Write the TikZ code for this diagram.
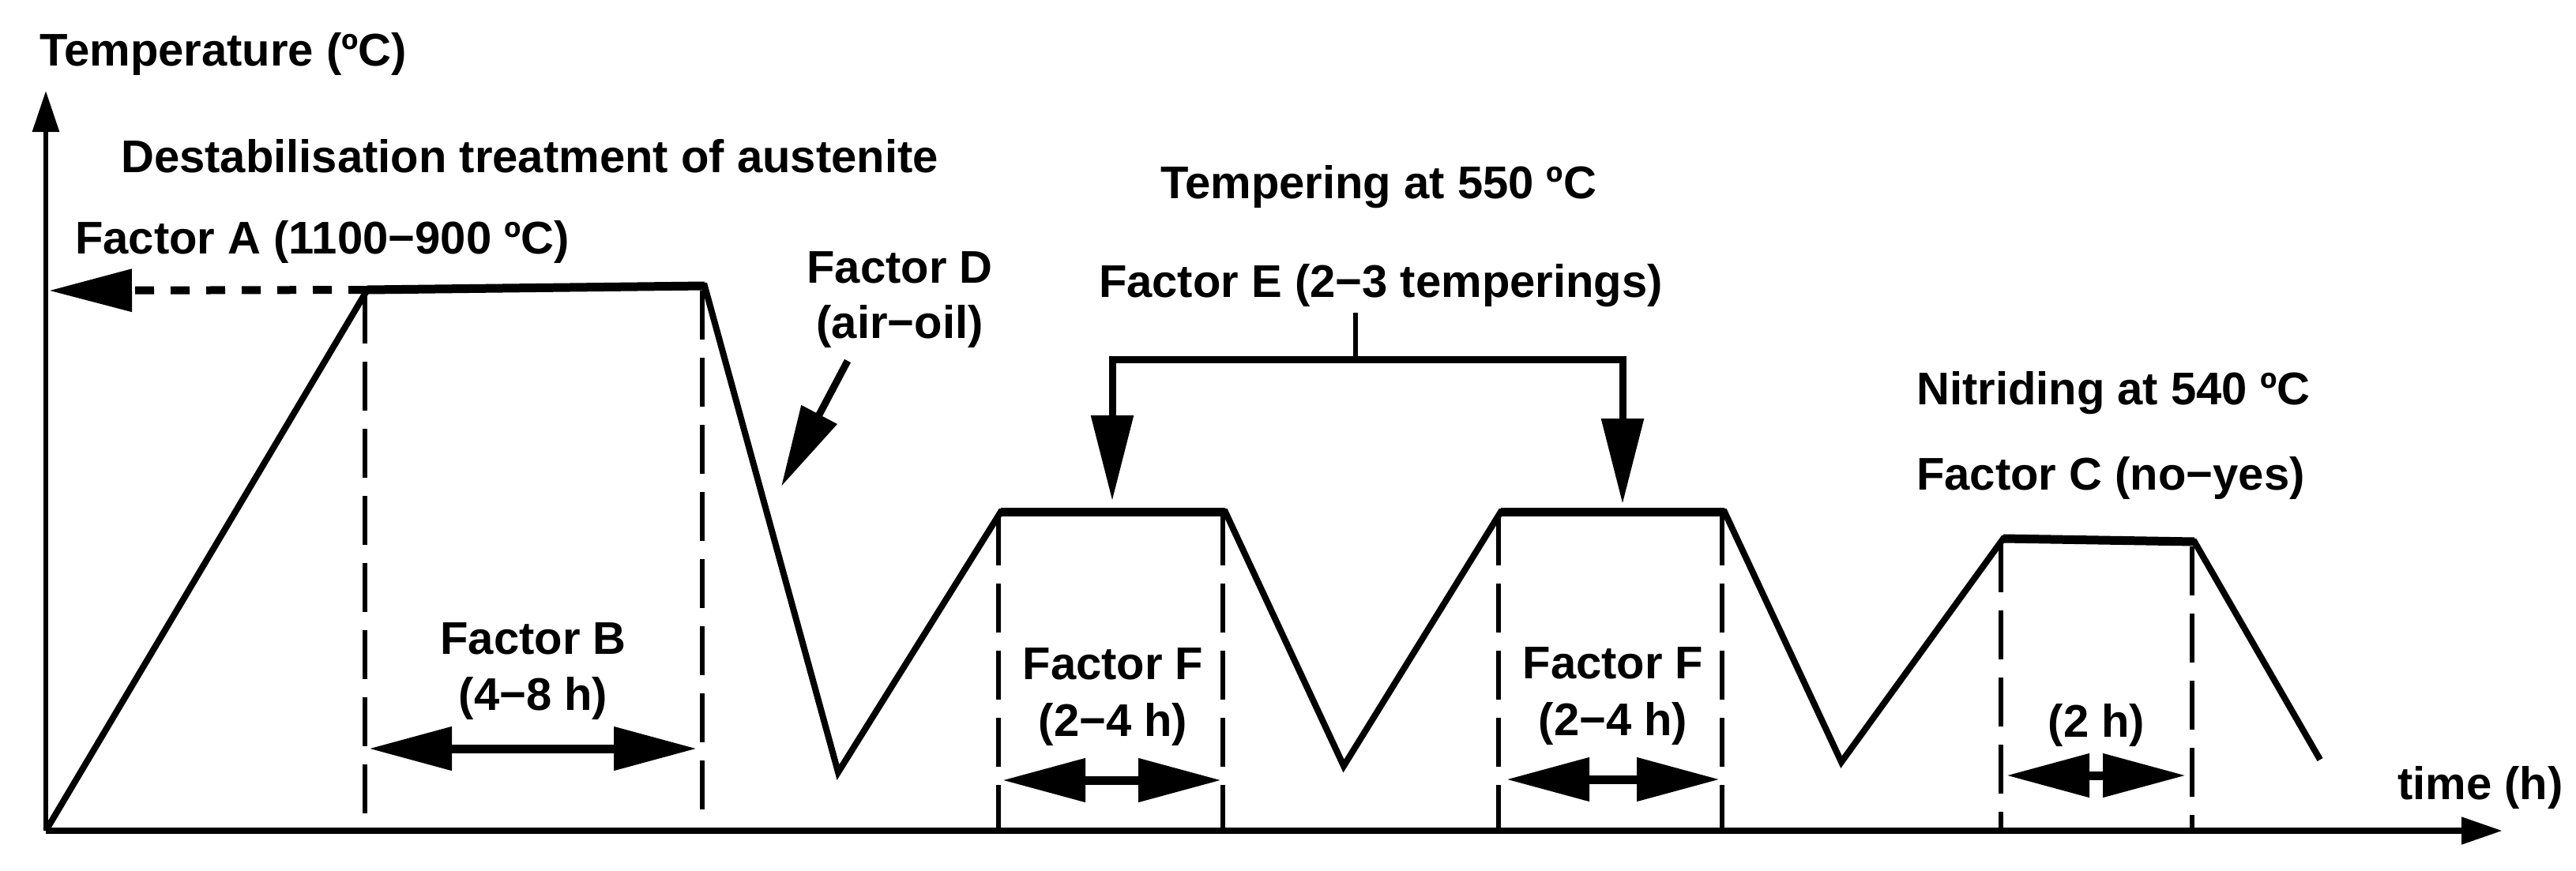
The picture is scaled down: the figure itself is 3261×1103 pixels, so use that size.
\documentclass[tikz,border=0pt]{standalone}
\usepackage{fontspec}
\setmainfont{Liberation Sans}
\usetikzlibrary{arrows.meta}
\begin{document}
\begin{tikzpicture}[x=1pt,y=-1pt,
  lbl/.style={font=\fontsize{58}{68}\selectfont\bfseries, inner sep=0pt},
  curve/.style={line width=8pt, line join=miter},
  plat/.style={line width=11pt, line cap=butt},
  vdash/.style={line width=6pt, dash pattern=on 62pt off 23pt},
  dbl/.style={line width=11pt, {Triangle[length=105pt,width=53pt]}-{Triangle[length=105pt,width=53pt]}},
  axisline/.style={-{Triangle[length=52pt,width=33pt]}}
]
\fill[white] (0,0) rectangle (3261,1103);
\useasboundingbox (0,0) rectangle (3261,1103);

% key points
\coordinate (O) at (58,1052);
\coordinate (Ytip) at (58,115);
\coordinate (Xtip) at (3168,1052);
\coordinate (a1) at (465,367);
\coordinate (a2) at (892,362);
\coordinate (v1) at (1061,978);
\coordinate (b1) at (1267,648);
\coordinate (b2) at (1551,648);
\coordinate (v2) at (1701,970);
\coordinate (c1) at (1900,648);
\coordinate (c2) at (2183,648);
\coordinate (v3) at (2331,965);
\coordinate (d1) at (2536,682);
\coordinate (d2) at (2778,686);
\coordinate (e) at (2937,962);

% axes
\draw[line width=6pt, axisline] (O) -- (Ytip);
\draw[line width=8pt, axisline] (O) -- (Xtip);

% dashed verticals
\foreach \p in {a1,a2,b1,b2,c1,c2,d1,d2}{
  \draw[vdash] ([xshift=-3pt,yshift=-6pt]\p) -- ([xshift=-3pt]\p |- O);
}

% heat treatment curve
\draw[curve] (O) -- (a1) -- (a2) -- (v1) -- (b1) -- (b2) -- (v2) -- (c1) -- (c2) -- (v3) -- (d1) -- (d2) -- (e);
\draw[plat] (a1) -- (a2);
\draw[plat] (b1) -- (b2);
\draw[plat] (c1) -- (c2);
\draw[plat] (d1) -- (d2);

% Factor A dashed arrow
\coordinate (Atip) at (62,368);
\draw[line width=10pt, dash pattern=on 24pt off 21pt, -{Triangle[length=105pt,width=52pt]}] (a1) -- (Atip);

% Factor D arrow
\coordinate (Dtail) at (1073,457);
\coordinate (Dtip) at (989,616);
\draw[line width=9pt, -{Triangle[length=103pt,width=49pt]}] (Dtail) -- (Dtip);

% Factor E bracket
\coordinate (Estub) at (1716,396);
\coordinate (Ejoin) at (1716,455);
\coordinate (Ebar1) at (1408,455);
\coordinate (Ebar2) at (2054,455);
\coordinate (Etip1) at (1408,634);
\coordinate (Etip2) at (2054,638);
\draw[line width=6pt] (Estub) -- (Ejoin);
\draw[line width=9pt, line join=miter, {Triangle[length=108pt,width=52pt]}-{Triangle[length=108pt,width=52pt]}] (Etip1) -- (Ebar1) -- (Ebar2) -- (Etip2);

% double arrows
\coordinate (B1) at (467,948); \coordinate (B2) at (882,948);
\coordinate (F1a) at (1269,988); \coordinate (F1b) at (1546,988);
\coordinate (F2a) at (1907,987); \coordinate (F2b) at (2177,987);
\coordinate (H1) at (2540,982); \coordinate (H2) at (2767,982);
\draw[dbl] (B1) -- (B2);
\draw[dbl] (F1a) -- (F1b);
\draw[dbl] (F2a) -- (F2b);
\draw[dbl] (H1) -- (H2);

% labels
\node[lbl, anchor=base west] (temp) at (50,83) {Temperature (ºC)};
\node[lbl, anchor=base west] (dest) at (153,218) {Destabilisation treatment of austenite};
\node[lbl, anchor=base west] (fa) at (95,321) {Factor A (1100−900 ºC)};
\node[lbl, anchor=base] (fd) at (1139,358) {Factor D};
\node[lbl, anchor=base] (fd2) at (1139,428) {(air−oil)};
\node[lbl, anchor=base] (t550) at (1745,251) {Tempering at 550 ºC};
\node[lbl, anchor=base] (fe) at (1748,376) {Factor E (2−3 temperings)};
\node[lbl, anchor=base west] (nit) at (2426,512) {Nitriding at 540 ºC};
\node[lbl, anchor=base west] (fc) at (2426,620) {Factor C (no−yes)};
\node[lbl, anchor=base] (fb) at (675,828) {Factor B};
\node[lbl, anchor=base] (fb2) at (675,899) {(4−8 h)};
\node[lbl, anchor=base] (ff1) at (1409,860) {Factor F};
\node[lbl, anchor=base] (ff1b) at (1409,932) {(2−4 h)};
\node[lbl, anchor=base] (ff2) at (2042,859) {Factor F};
\node[lbl, anchor=base] (ff2b) at (2042,931) {(2−4 h)};
\node[lbl, anchor=base] (h2) at (2654,933) {(2 h)};
\node[lbl, anchor=base west] (time) at (3035,1012) {time (h)};
\end{tikzpicture}
\end{document}
